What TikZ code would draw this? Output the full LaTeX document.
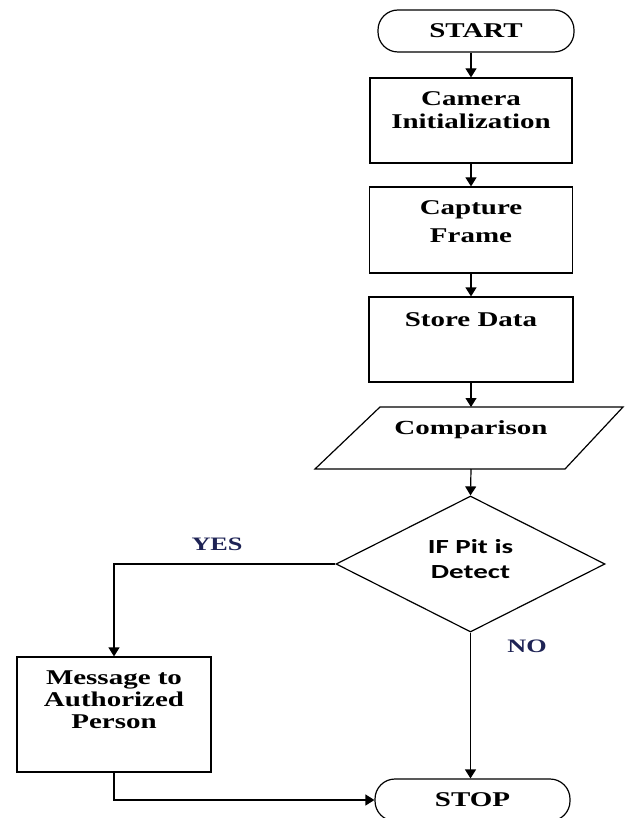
\documentclass[tikz,border=0pt]{standalone}
\usepackage{fontspec}
\setmainfont{Liberation Serif}
\newfontfamily\tnr[FakeStretch=1.38]{Liberation Serif}
\newfontfamily\cmpf[FakeStretch=1.45]{Liberation Serif}
\newfontfamily\calf[FakeStretch=1.45]{Carlito}
\usetikzlibrary{arrows.meta,shapes.geometric}
\definecolor{navy}{RGB}{30,35,85}
\begin{document}
\begin{tikzpicture}[x=1pt,y=-1pt,line width=1.2pt,
  term/.style={draw, rectangle, rounded corners=20pt, inner sep=0pt, minimum width=#1, minimum height=42pt,
     font=\tnr\bfseries\fontsize{21}{23}\selectfont},
  stepbox/.style={draw, rectangle, inner sep=0pt},
  tx/.style={inner sep=0pt, align=center, font=\tnr\bfseries\fontsize{21}{#1}\selectfont},
  lbl/.style={inner sep=0pt, text=navy, font=\tnr\bfseries\fontsize{19}{21}\selectfont},
  arr/.style={-{Triangle[length=9pt,width=11pt]}}
]
\useasboundingbox (0,0) rectangle (625,818);

% terminals
\node[term=196pt] (start) at (476,31) {START};
\node[term=195pt] (stop) at (472.5,800) {STOP};

% process boxes
\node[stepbox, minimum width=202pt, minimum height=85pt] (cam) at (471,120.5) {};
\node[tx=23, anchor=north] (camt) at (471,91) {Camera\\Initialization};

\node[stepbox, minimum width=203pt, minimum height=86pt] (cap) at (471,230) {};
\node[tx=28, anchor=north] (capt) at (471,200) {Capture\\Frame};

\node[stepbox, minimum width=204pt, minimum height=85pt] (store) at (471,339.5) {};
\node[tx=23, anchor=north] (storet) at (471,312) {Store Data};

% comparison (parallelogram)
\draw (315,469) -- (380,407) -- (623,407) -- (565,469) -- cycle;
\coordinate (comptop) at (471,407);
\coordinate (compbot) at (471,469);
\node[inner sep=0pt, anchor=base, font=\cmpf\bfseries\fontsize{20}{22}\selectfont] (comp) at (471,434) {Comparison};

% decision
\node[draw, diamond, inner sep=0pt, minimum width=269pt, minimum height=136pt] (dec) at (470.5,564) {};
\node[inner sep=0pt, align=center, anchor=north, font=\calf\bfseries\fontsize{20}{25}\selectfont] (dect) at (470.5,539) {IF Pit is\\Detect};

% message
\node[stepbox, minimum width=194pt, minimum height=115pt] (msg) at (114,714.5) {};
\node[tx=22, anchor=north] (msgt) at (114,670) {Message to\\Authorized\\Person};

% labels
\node[lbl, anchor=base] (yes) at (217,550) {YES};
\node[lbl, anchor=base] (no) at (527,652) {NO};

% connectors
\draw[arr] (cam.north |- start.south) -- (cam.north);
\draw[arr] (cam.south) -- (cap.north);
\draw[arr] (cap.south) -- (store.north);
\draw[arr] (store.south) -- (comptop);
\draw[arr] (compbot) -- (dec.north);
\draw[arr] (dec.south) -- (dec.south |- stop.north);
\draw[arr] (dec.west) -| (msg.north);
\draw[arr] (msg.south) |- (stop.west);
\end{tikzpicture}
\end{document}
